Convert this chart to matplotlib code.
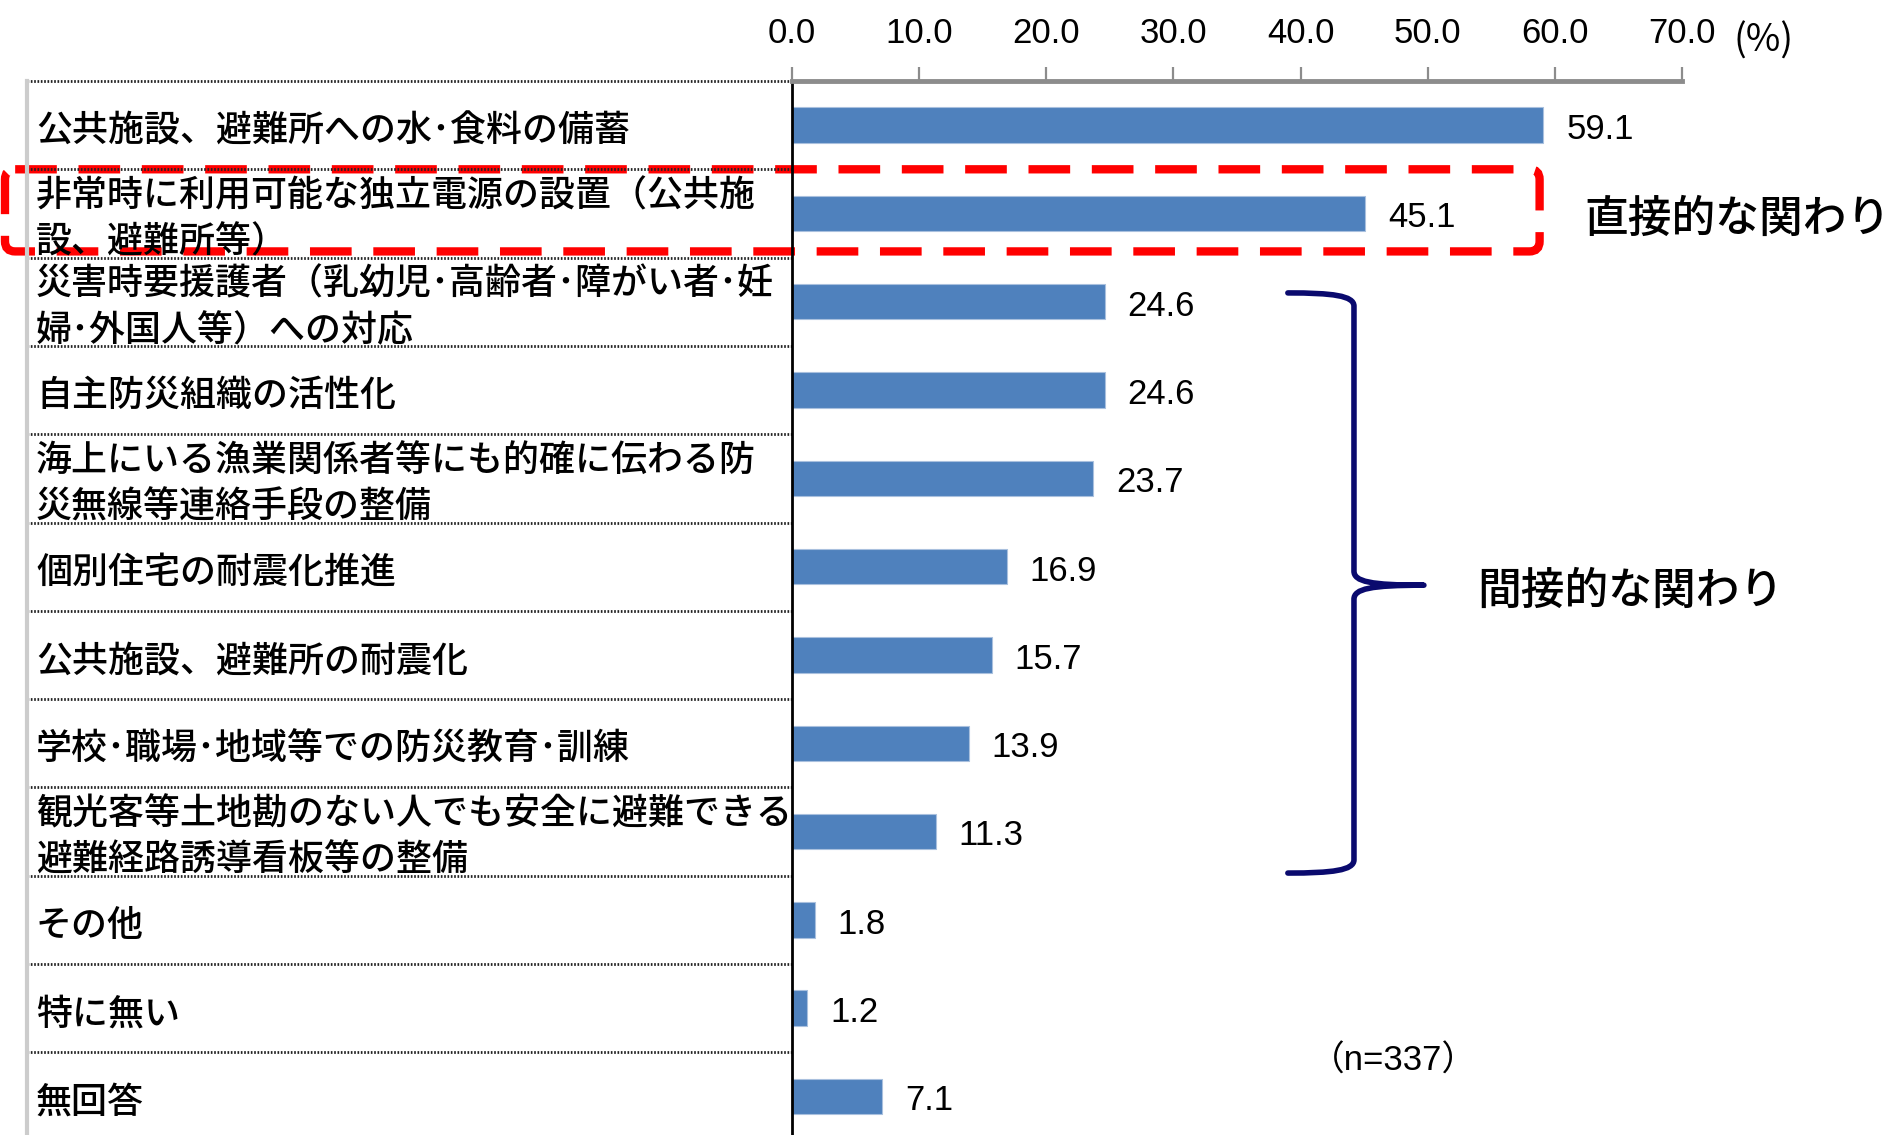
import matplotlib
matplotlib.use('Agg')
import matplotlib.pyplot as plt
import matplotlib.transforms as mtransforms
from matplotlib import font_manager
from matplotlib.patches import FancyBboxPatch, PathPatch
from matplotlib.path import Path

# データ
categories = [
    '公共施設、避難所への水･食料の備蓄',
    '非常時に利用可能な独立電源の設置（公共施\n設、避難所等）',
    '災害時要援護者（乳幼児･高齢者･障がい者･妊\n婦･外国人等）への対応',
    '自主防災組織の活性化',
    '海上にいる漁業関係者等にも的確に伝わる防\n災無線等連絡手段の整備',
    '個別住宅の耐震化推進',
    '公共施設、避難所の耐震化',
    '学校･職場･地域等での防災教育･訓練',
    '観光客等土地勘のない人でも安全に避難できる\n避難経路誘導看板等の整備',
    'その他',
    '特に無い',
    '無回答',
]
values = [59.1, 45.1, 24.6, 24.6, 23.7, 16.9, 15.7, 13.9, 11.3, 1.8, 1.2, 7.1]
xticks = [0, 10, 20, 30, 40, 50, 60, 70]
direct_label = '直接的な関わり'
indirect_label = '間接的な関わり'
n_label = '（n=337）'
unit_label = '(%)'

# フォント
names = {f.name for f in font_manager.fontManager.ttflist}
num_font = 'Liberation Sans Narrow' if 'Liberation Sans Narrow' in names else 'Liberation Sans'
num_size = 28 if num_font == 'Liberation Sans Narrow' else 25
jp_font = 'Noto Sans CJK JP'
plt.rcParams['font.family'] = [jp_font, 'DejaVu Sans']

fig = plt.figure(figsize=(18.96, 11.35), dpi=100)
ax = fig.add_axes([792 / 1896, 0, 890 / 1896, 1 - 81 / 1135])

y = list(range(len(values)))
ax.barh(y, values, height=0.4, color='#4F81BD', edgecolor='#A9C0DE', linewidth=0.8)
ax.set_xlim(0, 70)
ax.set_ylim(-0.5 + 1054 / 88.3, -0.5)

# 軸
ax.xaxis.tick_top()
ax.set_xticks(xticks)
ax.set_xticklabels([f'{t:.1f}' for t in xticks], family=num_font, fontsize=num_size)
ax.tick_params(axis='x', direction='out', length=10, width=1.6, color='#8C8C8C', pad=12)
ax.set_yticks([])
for s in ['right', 'bottom']:
    ax.spines[s].set_visible(False)
ax.spines['top'].set_color('#8C8C8C')
ax.spines['top'].set_linewidth(3.5)
ax.spines['left'].set_color('black')
ax.spines['left'].set_linewidth(2)

# 数値ラベル
for i, v in enumerate(values):
    ax.text(v + 1.8, i + 0.05, f'{v:.1f}', va='center', ha='left',
            family=num_font, fontsize=num_size)

# 左側の項目表
trans = mtransforms.blended_transform_factory(ax.transAxes, ax.transData)
x_left = (27 - 792) / 890
for i, c in enumerate(categories):
    ax.text((36 - 792) / 890, i + 0.07, c, transform=trans, va='center', ha='left',
            fontsize=25.9, weight='medium', linespacing=1.36, clip_on=False)
for i in range(len(values) + 1):
    ax.plot([x_left, 0], [i - 0.5, i - 0.5], transform=trans, color='#222222',
            lw=2, ls=(0, (0.6, 0.6)), clip_on=False)
ax.plot([x_left, x_left], [-0.5, 12], transform=trans, color='#CCCCCC', lw=3, clip_on=False)

# 赤い点線の枠
box = FancyBboxPatch((-61.9, 0.5), 120.7, 0.93,
                     boxstyle='round,pad=0,rounding_size=0.8', mutation_aspect=0.144,
                     fill=False, edgecolor='#FF0000', lw=6, ls=(0, (5.0, 2.6)),
                     clip_on=False)
ax.add_patch(box)
ax.text(62.3, 1.07, direct_label, va='center', ha='left', fontsize=31.5,
        weight='medium', clip_on=False)

# 中括弧
verts = [
    (39.0, 1.90), (42.5, 1.90), (44.2, 1.93), (44.2, 2.05),
    (44.2, 5.05),
    (44.2, 5.17), (45.5, 5.21), (49.7, 5.21),
    (45.5, 5.21), (44.2, 5.25), (44.2, 5.37),
    (44.2, 8.32),
    (44.2, 8.44), (42.5, 8.47), (39.0, 8.47),
]
codes = [Path.MOVETO, Path.CURVE4, Path.CURVE4, Path.CURVE4,
         Path.LINETO,
         Path.CURVE4, Path.CURVE4, Path.CURVE4,
         Path.CURVE4, Path.CURVE4, Path.CURVE4,
         Path.LINETO,
         Path.CURVE4, Path.CURVE4, Path.CURVE4]
ax.add_patch(PathPatch(Path(verts, codes), fill=False, edgecolor='#0A0A6E', lw=4,
                       capstyle='round', joinstyle='round'))
ax.text(53.9, 5.28, indirect_label, va='center', ha='left', fontsize=31.5, weight='medium')

ax.text(47.3, 10.6, n_label, va='center', ha='center', fontsize=25,
        family=[num_font, jp_font])
ax.text(76.4, -0.95, unit_label, va='center', ha='center', fontsize=27,
        family=jp_font, clip_on=False)

fig.savefig('out.png', dpi=100, facecolor='white')
